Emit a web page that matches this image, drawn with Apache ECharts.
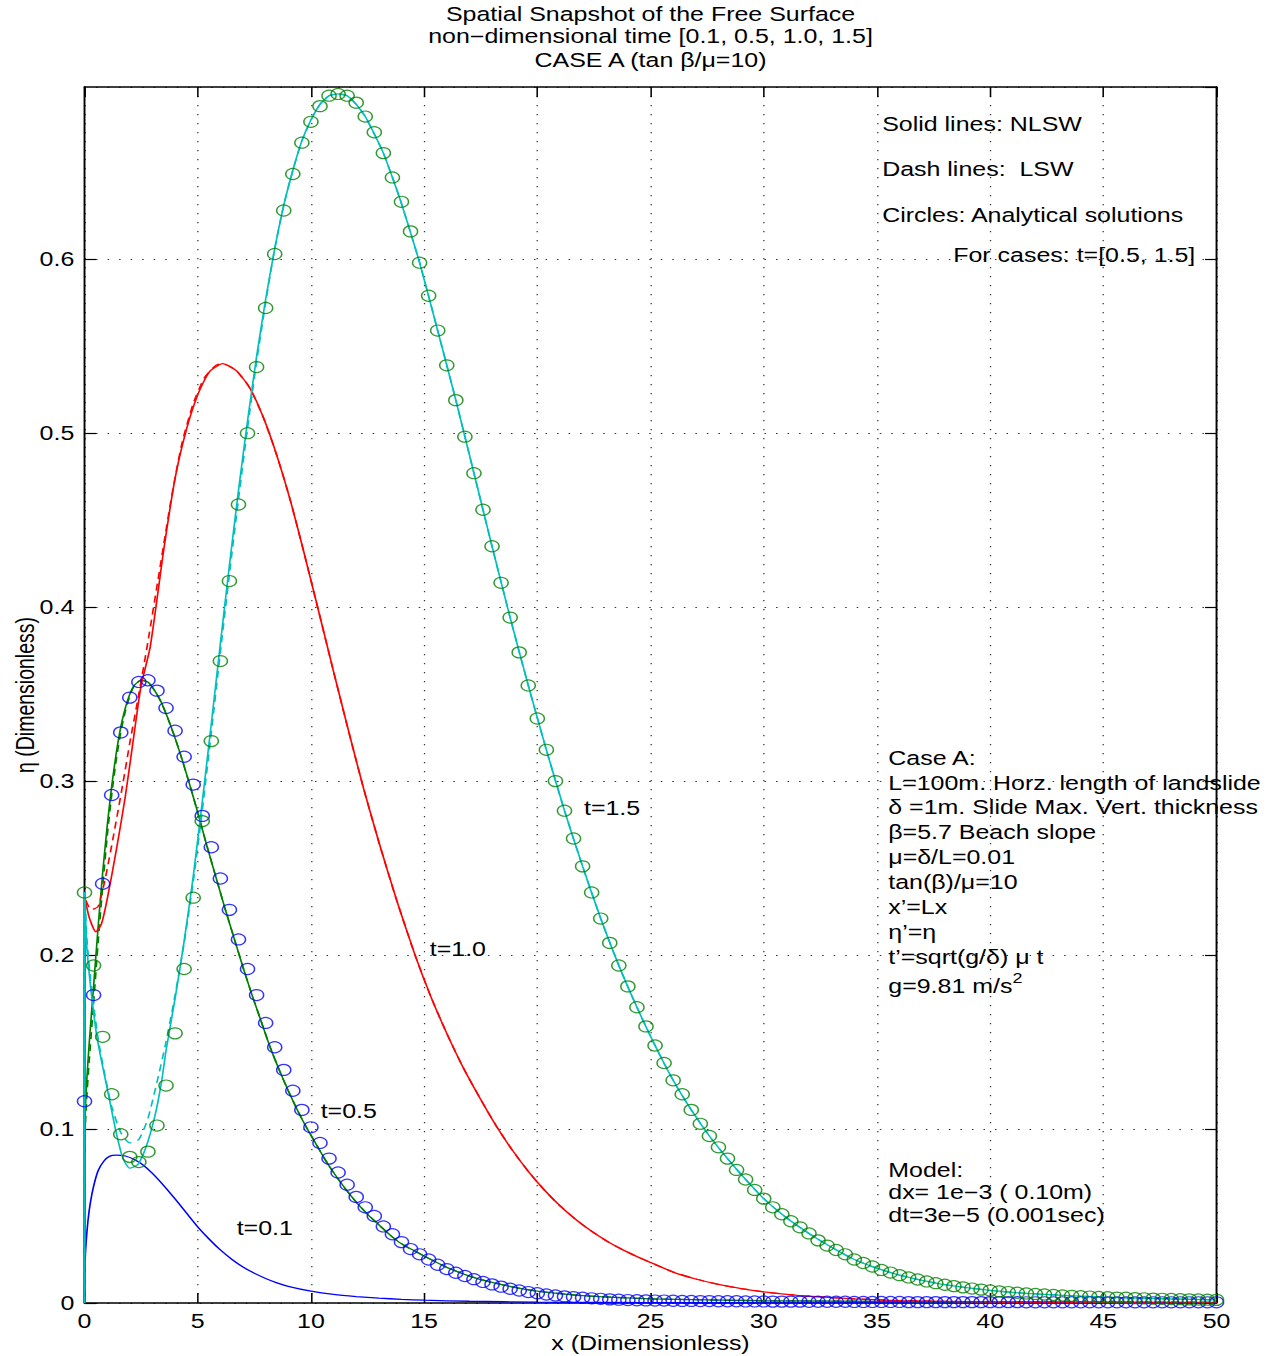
<!DOCTYPE html>
<html>
<head>
<meta charset="utf-8">
<title>Spatial Snapshot of the Free Surface</title>
<script src="https://cdn.jsdelivr.net/npm/echarts@6.0.0/dist/echarts.min.js"></script>
<style>
  html, body { margin: 0; padding: 0; background: #fff; overflow: hidden; }
  /* the figure is laid out 998 px wide and stretched to the 1278 px page */
  #chart { width: 998px; height: 1356px; transform: scaleX(1.28056); transform-origin: 0 0; }
</style>
</head>
<body>
<div id="chart"></div>
<script>
// ---------- tick labels ----------
const xTickLabels = ['0', '5', '10', '15', '20', '25', '30', '35', '40', '45', '50'];
const yTickLabels = ['0', '0.1', '0.2', '0.3', '0.4', '0.5', '0.6'];

// ---------- numerical solutions: [x, eta] ----------
// t = 0.1, NLSW (blue)
const t01Nlsw = [[0,0],[0.02,0.022],[0.07,0.035],[0.15,0.047],[0.25,0.057],[0.4,0.067],[0.6,0.076],[0.85,0.0815],[1.1,0.0843],[1.4,0.085],[1.8,0.0845],[2.2,0.0825],[2.6,0.0792],[3.0,0.0745],[3.5,0.0675],[4.0,0.0598],[4.5,0.0518],[5.0,0.0438],[5.5,0.0368],[6.0,0.0305],[6.5,0.0252],[7.0,0.0207],[7.5,0.0171],[8.0,0.0141],[8.5,0.0116],[9.0,0.0096],[10,0.0068],[11,0.0049],[12,0.0037],[13,0.0028],[14,0.0021],[15,0.0016],[17,0.001],[20,0.0005],[25,0.0002],[30,0.0001],[40,0],[50,0]];

// t = 0.5, NLSW (green)
const t05Nlsw = [[0,0],[0.02,0.105],[0.1,0.128],[0.2,0.148],[0.4,0.182],[0.6,0.216],[0.8,0.247],[1.0,0.274],[1.2,0.297],[1.4,0.316],[1.6,0.331],[1.8,0.342],[2.0,0.350],[2.2,0.355],[2.5,0.358],[2.8,0.357],[3.1,0.352],[3.4,0.345],[3.8,0.332],[4.2,0.317],[4.6,0.300],[5.0,0.282],[5.4,0.263],[5.8,0.245],[6.2,0.227],[6.6,0.210],[7.0,0.193],[7.4,0.177],[7.8,0.162],[8.2,0.147],[8.6,0.134],[9.0,0.122],[9.4,0.111],[9.8,0.101],[10.2,0.092],[10.6,0.083],[11.0,0.075],[11.5,0.066],[12.0,0.058],[12.5,0.051],[13.0,0.045],[13.5,0.039],[14.0,0.034],[15.0,0.027],[16.0,0.0205],[17.0,0.0155],[18.0,0.0118],[19.0,0.009],[20.0,0.0068],[22.0,0.0042],[25.0,0.0024],[30.0,0.0013],[40.0,0.0007],[50.0,0.0004]];
// t = 0.5, LSW where it departs from NLSW
const t05LswHead = [[0,0],[0.02,0.095],[0.1,0.118],[0.2,0.138],[0.4,0.172],[0.6,0.207],[0.8,0.239],[1.0,0.268],[1.2,0.292],[1.4,0.312],[1.6,0.328],[1.8,0.34],[2.0,0.349]];

// t = 1.0, NLSW (red)
const t10Nlsw = [[0,0],[0.01,0.2335],[0.2,0.222],[0.5,0.2134],[0.75,0.218],[1.0,0.232],[1.4,0.26],[1.8,0.291],[2.2,0.328],[2.5,0.355],[2.9,0.377],[3.5,0.433],[4.0,0.474],[4.5,0.502],[5.0,0.522],[5.5,0.535],[6.1,0.540],[6.7,0.536],[7.3,0.526],[7.9,0.509],[8.5,0.487],[9.1,0.461],[9.7,0.431],[10.2,0.405],[11.0,0.363],[11.6,0.332],[12.3,0.297],[13.0,0.265],[13.8,0.231],[14.6,0.200],[15.3,0.176],[16.0,0.155],[16.7,0.136],[17.5,0.117],[18.2,0.1015],[18.9,0.0878],[19.6,0.0757],[20.3,0.0651],[21.0,0.0559],[21.7,0.048],[22.4,0.0412],[23.1,0.0354],[23.8,0.0304],[24.5,0.0261],[25.2,0.0222],[26.0,0.0178],[27.0,0.0138],[28.0,0.0107],[29.0,0.0083],[30.0,0.0064],[31.0,0.005],[32.0,0.0039],[34.0,0.0024],[36.0,0.0014],[40.0,0.0006],[45.0,0.0003],[50.0,0.0002]];
// t = 1.0, LSW where it departs from NLSW
const t10LswHead = [[0,0],[0.01,0.233],[0.3,0.226],[0.6,0.228],[0.9,0.243],[1.3,0.27],[1.7,0.299],[2.0,0.322],[2.4,0.35],[2.8,0.38],[3.3,0.42],[3.8,0.46],[4.3,0.494],[4.8,0.517],[5.3,0.532],[5.8,0.539]];

// t = 1.5, NLSW (cyan)
const t15Nlsw = [[0,0],[0.01,0.236],[0.1,0.205],[0.3,0.178],[0.5,0.157],[0.66,0.145],[0.8,0.136],[1.1,0.117],[1.4,0.098],[1.7,0.083],[2.0,0.0775],[2.35,0.0795],[2.7,0.089],[3.1,0.107],[3.4,0.127],[3.6,0.145],[4.0,0.175],[4.4,0.208],[4.8,0.245],[5.2,0.288],[5.6,0.333],[6.0,0.379],[6.4,0.424],[6.8,0.467],[7.2,0.507],[7.6,0.544],[8.0,0.577],[8.4,0.606],[8.8,0.631],[9.2,0.651],[9.6,0.668],[10.0,0.680],[10.4,0.689],[10.8,0.694],[11.2,0.695],[11.6,0.694],[12.0,0.689],[12.4,0.682],[12.8,0.672],[13.2,0.661],[13.6,0.647],[14.0,0.632],[14.8,0.598],[15.6,0.559],[16.4,0.519],[17.2,0.477],[18.0,0.435],[18.8,0.394],[19.6,0.355],[20.4,0.318],[21.2,0.283],[22.0,0.251],[22.8,0.221],[23.6,0.194],[24.4,0.170],[25.2,0.148],[26.0,0.128],[26.8,0.111],[27.6,0.096],[28.4,0.083],[29.2,0.071],[30.0,0.060],[31.0,0.049],[32.0,0.040],[33.0,0.032],[34.0,0.025],[35.0,0.020],[36.0,0.016],[37.0,0.013],[38.0,0.0105],[40.0,0.0072],[42.0,0.0052],[44.0,0.0039],[46.0,0.003],[48.0,0.0023],[50.0,0.0018]];
// t = 1.5, LSW where it departs from NLSW
const t15LswHead = [[0,0],[0.01,0.236],[0.1,0.21],[0.3,0.182],[0.6,0.152],[0.9,0.131],[1.2,0.113],[1.6,0.098],[2.0,0.092],[2.4,0.094],[2.8,0.106],[3.2,0.127],[3.6,0.15],[4.0,0.177],[4.4,0.207],[4.8,0.242],[5.2,0.283],[5.6,0.328],[6.0,0.374],[6.4,0.419],[6.8,0.462],[7.2,0.503],[7.6,0.541],[8.0,0.575]];

// ---------- analytical solutions, sampled every 0.4 from x = 0 to 50 ----------
const circleStep = 0.4;
// t = 0.5 (blue circles)
const blueCircles = [0.116,0.177,0.241,0.292,0.328,0.348,0.357,0.358,0.352,0.342,
  0.329,0.314,0.298,0.280,0.262,0.244,0.226,0.209,0.192,0.177,
  0.161,0.147,0.134,0.122,0.111,0.101,0.092,0.083,0.075,0.068,
  0.061,0.055,0.050,0.044,0.0395,0.035,0.031,0.028,0.025,0.022,
  0.0195,0.0174,0.0155,0.0137,0.0121,0.0107,0.0094,0.0082,0.0072,0.0063,
  0.0056,0.0049,0.0043,0.0038,0.0034,0.0030,0.0027,0.0024,0.0021,0.0019,
  0.0017,0.0016,0.0015,0.0014,0.0014,0.0013,0.0012,0.0012,0.0011,0.0011,
  0.0010,0.0010,0.0010,0.0009,0.0009,0.0009,0.0008,0.0008,0.0008,0.0008,
  0.0007,0.0007,0.0007,0.0007,0.0007,0.0006,0.0006,0.0006,0.0006,0.0006,
  0.0006,0.0005,0.0005,0.0005,0.0005,0.0005,0.0005,0.0005,0.0005,0.0005,
  0.0005,0.0005,0.0005,0.0005,0.0004,0.0004,0.0004,0.0004,0.0004,0.0004,
  0.0004,0.0004,0.0004,0.0004,0.0004,0.0004,0.0004,0.0004,0.0004,0.0004,
  0.0004,0.0004,0.0004,0.0004,0.0004,0.0004];
// t = 1.5 (green circles)
const greenCircles = [0.236,0.194,0.153,0.120,0.097,0.084,0.081,0.087,0.102,0.125,
  0.155,0.192,0.233,0.277,0.323,0.369,0.415,0.459,0.500,0.538,
  0.572,0.603,0.628,0.649,0.667,0.679,0.688,0.694,0.695,0.694,
  0.690,0.682,0.673,0.661,0.647,0.633,0.616,0.598,0.579,0.559,
  0.539,0.519,0.498,0.477,0.456,0.435,0.414,0.394,0.374,0.355,
  0.336,0.318,0.300,0.283,0.267,0.251,0.236,0.221,0.207,0.194,
  0.182,0.170,0.159,0.148,0.138,0.128,0.120,0.111,0.103,0.096,
  0.0895,0.083,0.0765,0.071,0.065,0.060,0.055,0.051,0.047,0.0435,
  0.040,0.036,0.033,0.0305,0.028,0.025,0.023,0.021,0.019,0.0175,
  0.016,0.0147,0.0135,0.0124,0.0114,0.0105,0.0097,0.009,0.0083,0.0077,
  0.0072,0.0067,0.0063,0.0059,0.0055,0.0052,0.0049,0.0046,0.0043,0.0041,
  0.0039,0.0037,0.0035,0.0033,0.0031,0.0030,0.0028,0.0027,0.0025,0.0024,
  0.0023,0.0022,0.0021,0.0020,0.0019,0.0018];

// ---------- text ----------
const titleLines = ['Spatial Snapshot of the Free Surface', 'non\u2212dimensional time [0.1, 0.5, 1.0, 1.5]', 'CASE A (tan \u03b2/\u03bc=10)'];
const keyNotes = [
  { at: [35.23, 0.6776], text: 'Solid lines: NLSW' },
  { at: [35.23, 0.6517], text: 'Dash lines:  LSW' },
  { at: [35.23, 0.6253], text: 'Circles: Analytical solutions' },
  { at: [38.37, 0.6023], text: 'For cases: t=[0.5, 1.5]' }
];
const caseAnchor = [35.5, 0.3132];
const caseLines = ['Case A:', 'L=100m. Horz. length of landslide', '\u03b4 =1m. Slide Max. Vert. thickness', '\u03b2=5.7 Beach slope', '\u03bc=\u03b4/L=0.01', 'tan(\u03b2)/\u03bc=10', 'x\u2019=Lx', '\u03b7\u2019=\u03b7', 't\u2019=sqrt(g/\u03b4) \u03bc t'];
const gravityLine = { base: 'g=9.81 m/s', sup: '2' };
const modelAnchor = [35.5, 0.0764];
const modelLines = ['Model:', 'dx= 1e\u22123 ( 0.10m)', 'dt=3e\u22125 (0.001sec)'];
const curveLabels = [
  { at: [22.06, 0.2845], text: 't=1.5' },
  { at: [15.25, 0.2034], text: 't=1.0' },
  { at: [10.43, 0.1103], text: 't=0.5' },
  { at: [6.72, 0.0431], text: 't=0.1' }
];

// ---------- styling ----------
const FONT = '"Liberation Sans", Arial, Helvetica, sans-serif';
const FS = 19.5;
const BLUE = '#0000ff', GREEN = '#008000', RED = '#ff0000', CYAN = '#00bfbf';

function joinTail(head, full) {
  const last = head[head.length - 1][0];
  return head.concat(full.filter(p => p[0] > last));
}
function curve(name, data, color, dashed) {
  return {
    name, type: 'line', data, showSymbol: false, symbol: 'none', silent: true,
    smooth: 0.2, clip: true,
    lineStyle: { color, width: 1.3, type: dashed ? [7, 5] : 'solid' },
    itemStyle: { color }, z: 2
  };
}
function circles(name, values, color) {
  return {
    name, type: 'scatter', silent: true, clip: false,
    data: values.map((v, i) => [+(i * circleStep).toFixed(1), v]),
    symbol: 'circle', symbolSize: 11,
    itemStyle: { color: 'rgba(0,0,0,0)', borderColor: color, borderWidth: 1.2 },
    z: 3
  };
}

const axisLineStyle = { show: true, onZero: false, lineStyle: { color: '#000', width: 1.5 } };
const gridDots = { show: true, lineStyle: { color: '#333', width: 1, type: [1.2, 7.8] } };
const labelStyle = { fontFamily: FONT, fontSize: FS, color: '#000' };

const chart = echarts.init(document.getElementById('chart'), null, { renderer: 'svg', width: 998, height: 1356 });

chart.setOption({
  backgroundColor: '#fff',
  animation: false,
  grid: { left: 66, right: 48, top: 87, bottom: 53, containLabel: false, outerBoundsMode: 'none' },
  xAxis: [
    {
      type: 'value', min: 0, max: 50, interval: 5, position: 'bottom',
      name: 'x (Dimensionless)', nameLocation: 'middle', nameGap: 30, nameMoveOverlap: false,
      nameTextStyle: labelStyle,
      axisLine: axisLineStyle,
      axisTick: { show: true, inside: true, length: 10, lineStyle: { color: '#000', width: 1.2 } },
      axisLabel: Object.assign({ margin: 8, formatter: v => xTickLabels[Math.round(v / 5)] }, labelStyle),
      splitLine: gridDots
    },
    {
      type: 'value', min: 0, max: 50, interval: 5, position: 'top',
      axisLine: axisLineStyle,
      axisTick: { show: true, inside: true, length: 10, lineStyle: { color: '#000', width: 1.2 } },
      axisLabel: { show: false }, splitLine: { show: false }
    }
  ],
  yAxis: [
    {
      type: 'value', min: 0, max: 0.699, interval: 0.1, position: 'left',
      name: '\u03b7 (Dimensionless)', nameLocation: 'middle', nameGap: 36, nameRotate: 90, nameMoveOverlap: false,
      nameTextStyle: labelStyle,
      axisLine: axisLineStyle,
      axisTick: { show: true, inside: true, length: 9, lineStyle: { color: '#000', width: 1.2 } },
      axisLabel: Object.assign({ margin: 8, showMaxLabel: false, formatter: v => yTickLabels[Math.round(v / 0.1)] || '' }, labelStyle),
      splitLine: gridDots
    },
    {
      type: 'value', min: 0, max: 0.699, interval: 0.1, position: 'right',
      axisLine: axisLineStyle,
      axisTick: { show: true, inside: true, length: 9, lineStyle: { color: '#000', width: 1.2 } },
      axisLabel: { show: false }, splitLine: { show: false }
    }
  ],
  series: [
    curve('t=0.1 NLSW', t01Nlsw, BLUE, false),
    curve('t=0.5 NLSW', t05Nlsw, GREEN, false),
    curve('t=0.5 LSW', joinTail(t05LswHead, t05Nlsw), GREEN, true),
    curve('t=1.0 NLSW', t10Nlsw, RED, false),
    curve('t=1.0 LSW', joinTail(t10LswHead, t10Nlsw), RED, true),
    curve('t=1.5 NLSW', t15Nlsw, CYAN, false),
    curve('t=1.5 LSW', joinTail(t15LswHead, t15Nlsw), CYAN, true),
    circles('t=0.5 analytical', blueCircles, BLUE),
    circles('t=1.5 analytical', greenCircles, GREEN)
  ]
});

// ---------- annotations placed in data space ----------
const toPx = p => chart.convertToPixel({ xAxisIndex: 0, yAxisIndex: 0 }, p);
function txt(x, y, text, align) {
  return {
    type: 'text', x, y, silent: true, z: 10,
    style: { text, fill: '#000', font: FS + 'px ' + FONT, textAlign: align || 'left', textVerticalAlign: 'middle', align: align || 'left', verticalAlign: 'middle' }
  };
}
const gfx = [];
const mid = toPx([25, 0])[0];
[14, 36, 60].forEach((y, i) => gfx.push(txt(mid, y, titleLines[i], 'center')));
keyNotes.forEach(n => { const p = toPx(n.at); gfx.push(txt(p[0], p[1], n.text)); });
curveLabels.forEach(n => { const p = toPx(n.at); gfx.push(txt(p[0], p[1], n.text)); });
const ca = toPx(caseAnchor);
caseLines.forEach((t, i) => gfx.push(txt(ca[0], ca[1] + i * 24.9, t)));
gfx.push({
  type: 'text', x: ca[0], y: ca[1] + caseLines.length * 24.9 + 4, silent: true, z: 10,
  style: {
    text: '{b|' + gravityLine.base + '}{s|' + gravityLine.sup + '}',
    fill: '#000', textAlign: 'left', textVerticalAlign: 'middle', align: 'left', verticalAlign: 'middle',
    rich: {
      b: { fontFamily: FONT, fontSize: FS, lineHeight: 30, verticalAlign: 'middle', fill: '#000' },
      s: { fontFamily: FONT, fontSize: 14, lineHeight: 14, verticalAlign: 'top', fill: '#000' }
    }
  }
});
const ma = toPx(modelAnchor);
modelLines.forEach((t, i) => gfx.push(txt(ma[0], ma[1] + i * 22.5, t)));
chart.setOption({ graphic: gfx });
</script>
</body>
</html>
